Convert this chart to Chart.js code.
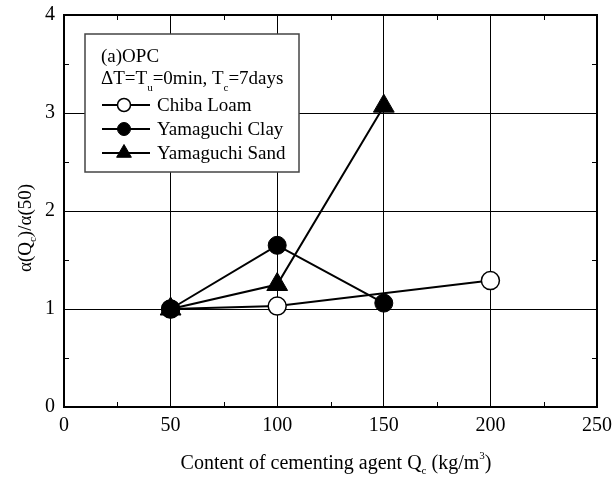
<!DOCTYPE html>
<html>
<head>
<meta charset="utf-8">
<script src="https://cdn.jsdelivr.net/npm/chart.js@4/dist/chart.umd.min.js"></script>
<style>
html,body{margin:0;padding:0;background:#fff;}
canvas{display:block;}
</style>
</head>
<body>
<canvas id="c" width="613" height="482"></canvas>
<script>
// ---- data ----
const chibaX = [50, 100, 200];
const chibaY = [1.00, 1.03, 1.29];
const clayX = [50, 100, 150];
const clayY = [1.00, 1.65, 1.06];
const sandX = [50, 100, 150];
const sandY = [1.00, 1.25, 3.07];
const seriesNames = ['Chiba Loam', 'Yamaguchi Clay', 'Yamaguchi Sand'];
const xTicks = [0, 50, 100, 150, 200, 250];
const yTicks = [0, 1, 2, 3, 4];
const xMinor = [25, 75, 125, 175, 225];
const yMinor = [0.5, 1.5, 2.5, 3.5];

const FONT = '"Liberation Serif", "Times New Roman", serif';

function pts(xs, ys) { return xs.map((x, i) => ({x: x, y: ys[i]})); }

function drawRich(ctx, segs, x, y, align) {
  let w = 0;
  segs.forEach(s => { ctx.font = s[1] + 'px ' + FONT; w += ctx.measureText(s[0]).width; });
  let cx = align === 'center' ? x - w / 2 : x;
  ctx.textAlign = 'left';
  ctx.textBaseline = 'alphabetic';
  segs.forEach(s => {
    ctx.font = s[1] + 'px ' + FONT;
    ctx.fillText(s[0], cx, y + (s[2] || 0));
    cx += ctx.measureText(s[0]).width;
  });
}

const decor = {
  id: 'decor',
  afterDraw(chart) {
    const ctx = chart.ctx;
    const xs = chart.scales.x, ys = chart.scales.y;
    const a = chart.chartArea;
    ctx.save();
    ctx.strokeStyle = '#000';
    ctx.lineWidth = 1;
    ctx.beginPath();
    const L = 5;
    xMinor.forEach(v => {
      const px = Math.round(xs.getPixelForValue(v)) + 0.5;
      ctx.moveTo(px, a.bottom); ctx.lineTo(px, a.bottom - L);
      ctx.moveTo(px, a.top); ctx.lineTo(px, a.top + L);
    });
    yMinor.forEach(v => {
      const py = Math.round(ys.getPixelForValue(v)) + 0.5;
      ctx.moveTo(a.left, py); ctx.lineTo(a.left + L, py);
      ctx.moveTo(a.right, py); ctx.lineTo(a.right - L, py);
    });
    ctx.stroke();
    ctx.lineWidth = 2;
    ctx.beginPath();
    ctx.moveTo(a.left, a.top); ctx.lineTo(a.right, a.top); ctx.lineTo(a.right, a.bottom);
    ctx.stroke();

    // legend box
    const bx = 85, by = 34, bw = 214, bh = 138;
    ctx.fillStyle = '#fff';
    ctx.fillRect(bx, by, bw, bh);
    ctx.strokeStyle = '#444';
    ctx.lineWidth = 1.5;
    ctx.strokeRect(bx, by, bw, bh);
    ctx.fillStyle = '#000';
    drawRich(ctx, [['(a)OPC', 19, 0]], 101, 62, 'left');
    drawRich(ctx, [['\u0394T=T', 19, 0], ['u', 11, 7], ['=0min, T', 19, 0], ['c', 11, 7], ['=7days', 19, 0]], 101, 84, 'left');
    const rows = [105, 129, 153];
    chart.data.datasets.forEach(ds => {
      const i = seriesNames.indexOf(ds.label);
      const yy = rows[i];
      ctx.strokeStyle = '#000';
      ctx.lineWidth = 2;
      ctx.beginPath(); ctx.moveTo(102, yy); ctx.lineTo(150, yy); ctx.stroke();
      const ms = ds.pointStyle === 'triangle' ? 8.5 : 6.5;
      ctx.fillStyle = ds.pointBackgroundColor;
      ctx.strokeStyle = '#000';
      ctx.lineWidth = ds.pointBorderWidth;
      ctx.beginPath();
      if (ds.pointStyle === 'triangle') {
        const r = ms;
        ctx.moveTo(124, yy - r);
        ctx.lineTo(124 + r * 0.866, yy + r * 0.5);
        ctx.lineTo(124 - r * 0.866, yy + r * 0.5);
        ctx.closePath();
      } else {
        ctx.arc(124, yy, ms, 0, Math.PI * 2);
      }
      ctx.fill(); ctx.stroke();
      ctx.fillStyle = '#000';
      drawRich(ctx, [[ds.label, 19, 0]], 157, yy + 6, 'left');
    });

    // axis titles
    ctx.fillStyle = '#000';
    drawRich(ctx, [['Content of cementing agent Q', 20, 0], ['c', 11, 5], [' (kg/m', 20, 0], ['3', 11, -10], [')', 20, 0]], 336, 469, 'center');
    ctx.save();
    ctx.translate(31, 228);
    ctx.rotate(-Math.PI / 2);
    drawRich(ctx, [['\u03B1(Q', 19, 0], ['c', 11, 5], [')/\u03B1(50)', 19, 0]], 0, 0, 'center');
    ctx.restore();
    ctx.restore();
  }
};

const chart = new Chart(document.getElementById('c'), {
  type: 'line',
  data: {
    datasets: [
      { label: seriesNames[1], data: pts(clayX, clayY), order: 0,
        borderColor: '#000', borderWidth: 2, pointStyle: 'circle', pointRadius: 9,
        pointBackgroundColor: '#000', pointBorderColor: '#000', pointBorderWidth: 1, tension: 0 },
      { label: seriesNames[0], data: pts(chibaX, chibaY), order: 1,
        borderColor: '#000', borderWidth: 2, pointStyle: 'circle', pointRadius: 9,
        pointBackgroundColor: '#fff', pointBorderColor: '#000', pointBorderWidth: 1.5, tension: 0 },
      { label: seriesNames[2], data: pts(sandX, sandY), order: 2,
        borderColor: '#000', borderWidth: 2, pointStyle: 'triangle', pointRadius: 12,
        pointBackgroundColor: '#000', pointBorderColor: '#000', pointBorderWidth: 1, tension: 0 }
    ]
  },
  options: {
    responsive: false,
    animation: false,
    devicePixelRatio: 1,
    layout: { padding: { top: 15, right: 16, left: 0, bottom: 0 } },
    plugins: { legend: { display: false }, tooltip: { enabled: false } },
    scales: {
      x: {
        type: 'linear', min: 0, max: 250,
        afterBuildTicks: s => { s.ticks = xTicks.map(v => ({value: v})); },
        afterFit: s => { s.height = 75; s.paddingLeft = 0; s.paddingRight = 0; s.paddingTop = 0; s.paddingBottom = 0; },
        grid: { color: '#000', lineWidth: 1, drawTicks: false },
        border: { color: '#000', width: 2 },
        ticks: { color: '#000', padding: 7, maxRotation: 0, font: { family: FONT, size: 20 } }
      },
      y: {
        type: 'linear', min: 0, max: 4,
        afterBuildTicks: s => { s.ticks = yTicks.map(v => ({value: v})); },
        afterFit: s => { s.width = 64; s.paddingTop = 0; s.paddingBottom = 0; s.paddingLeft = 0; s.paddingRight = 0; },
        grid: { color: '#000', lineWidth: 1, drawTicks: false },
        border: { color: '#000', width: 2 },
        ticks: { color: '#000', padding: 9, font: { family: FONT, size: 20 } }
      }
    }
  },
  plugins: [decor]
});
</script>
</body>
</html>
